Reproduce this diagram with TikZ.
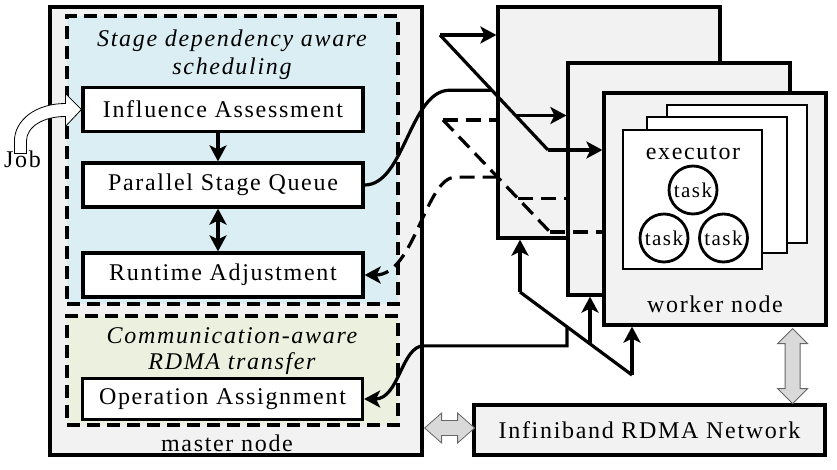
\documentclass[tikz,border=0pt]{standalone}
\usepackage{fontspec}
\setmainfont{Liberation Serif}[LetterSpace=7]
\usetikzlibrary{arrows.meta,calc}

\definecolor{schedblue}{RGB}{218,238,243}
\definecolor{rdmagreen}{RGB}{235,241,222}
\definecolor{hostgray}{RGB}{242,242,242}
\definecolor{linkgray}{RGB}{217,217,217}

\begin{document}
\begin{tikzpicture}[x=1pt,y=-1pt,line width=3.2pt,
        >={Stealth[length=16pt,width=17pt,inset=4pt]},
        every node/.style={inner sep=0pt, font=\fontsize{24}{28}\selectfont},
        title/.style={font=\fontsize{24}{28}\selectfont\itshape, align=center, anchor=north},
        hostbox/.style={draw, fill=hostgray},
        zone/.style={draw, dash pattern=on 13pt off 7pt},
        stagebox/.style={draw, fill=white, minimum width=280, minimum height=44},
        execbox/.style={draw, fill=white, line width=2.8pt, minimum width=140, minimum height=138},
        taskball/.style={draw, circle, fill=white, line width=2.8pt, minimum size=48, font=\fontsize{21}{24}\selectfont},
        feedback/.style={dash pattern=on 15pt off 8pt},
        pipe/.style={draw=black!60, fill=linkgray, line width=0.8pt},
        jobarrow/.style={draw, fill=white, line width=0.8pt}]
    \useasboundingbox (0,0) rectangle (837,469);

    % master node
    \node[hostbox, minimum width=372, minimum height=448] (master) at (236,231) {};
    \node[zone, fill=schedblue, minimum width=331, minimum height=288] (sched) at (232.5,160) {};
    \node[zone, fill=rdmagreen, minimum width=331, minimum height=109] (rdma) at (232.5,370.5) {};
    \node[title] (schedtitle) at (232,28) {Stage dependency aware\\scheduling};
    \node[title, font=\fontsize{24}{26}\selectfont\itshape] (rdmatitle) at (232,326) {Communication-aware\\RDMA transfer};
    \node[stagebox] (ia) at (223,109.5) {Influence Assessment};
    \node[stagebox] (psq) at (223,185) {Parallel Stage Queue};
    \node[stagebox] (ra) at (223,275) {Runtime Adjustment};
    \node[stagebox, minimum height=41] (oa) at (222.5,399) {Operation Assignment};
    \node[anchor=base] (mastername) at (227,451) {master node};

    % worker nodes
    \node[hostbox, minimum width=222, minimum height=231] (wb) at (609,122.5) {};
    \node[hostbox, minimum width=222, minimum height=232] (wm) at (679,179) {};
    \node[hostbox, minimum width=222, minimum height=232] (wf) at (715,209) {};
    \node[anchor=base] (workername) at (715,312) {worker node};
    \node[execbox] (eb) at (737,174) {};
    \node[execbox, minimum height=136] (em) at (717,185) {};
    \node[execbox, minimum width=139, minimum height=139] (ef) at (692.5,199.5) {};
    \node[anchor=base] (execname) at (693,159) {executor};
    \node[taskball] (t1) at (693,190) {task};
    \node[taskball] (t2) at (664,238) {task};
    \node[taskball] (t3) at (723.5,238) {task};

    \node[hostbox, minimum width=351, minimum height=50] (net) at (649.5,430) {Infiniband RDMA Network};

    % inside the scheduler
    \draw[->] ([xshift=-5pt]ia.south) -- ([xshift=-5pt]psq.north);
    \draw[<->] ([xshift=-5pt]psq.south) -- ([xshift=-5pt]ra.north);

    % stages out to the workers
    \coordinate (sb1) at (440,35);
    \coordinate (sb2) at (548,150);
    \coordinate (sb3) at ($(sb1)!0.7!(sb2)$);
    \coordinate (sbj) at ($(sb1)!0.48!(sb2)$);
    \draw (sb1) -- (sb2);
    \draw[->] (sb1) -- (sb1 -| wb.west);
    \draw[->] (sb3) -- (sb3 -| wm.west);
    \draw[->] (sb2) -- (sb2 -| wf.west);
    \draw (psq.east) .. controls +(40,0) and +(-40,0) .. ([xshift=-42pt]sbj) -- (sbj);

    % feedback back to the adjustment
    \coordinate (db1) at (443,120);
    \coordinate (db2) at (550,232);
    \coordinate (db3) at ($(db1)!0.7!(db2)$);
    \coordinate (dbj) at ($(db1)!0.51!(db2)$);
    \begin{scope}[feedback]
        \draw (db1) -- (db2);
        \draw (db1) -- (db1 -| wb.west);
        \draw (db3) -- (db3 -| wm.west);
        \draw (db2) -- (db2 -| wf.west);
        \draw[->] (dbj) -- ([xshift=-42pt]dbj) .. controls +(-30,0) and +(50,0) .. (ra.east);
    \end{scope}

    % rdma operations
    \coordinate (bb1) at (520,292);
    \coordinate (bb2) at (632,375);
    \coordinate (bb3) at ($(bb1)!0.625!(bb2)$);
    \coordinate (bbj) at ($(bb1)!0.42!(bb2)$);
    \coordinate (bbk) at ($(bbj)+(0,19)$);
    \draw (bb1) -- (bb2);
    \draw[->] (bb1) -- (bb1 |- wb.south);
    \draw[->] (bb3) -- (bb3 |- wm.south);
    \draw[->] (bb2) -- (bb2 |- wf.south);
    \draw[->] (bbj) -- (bbk) -- (bbk -| master.east) .. controls +(-22,0) and +(35,0) .. (oa.east);

    % network links
    \draw[pipe] ($(wf.south east)+(-35,2)$) -- ++(15,15) -- ++(-7.5,0) -- ++(0,45) -- ++(7.5,0)
        -- ++(-15,15) -- ++(-15,-15) -- ++(7.5,0) -- ++(0,-45) -- ++(-7.5,0) -- cycle;
    \draw[pipe] ($(master.east |- net.west)+(1,-2)$) -- ++(17,-15) -- ++(0,7.5) -- ++(16,0) -- ++(0,-7.5)
        -- ++(17,15) -- ++(-17,15) -- ++(0,-7.5) -- ++(-16,0) -- ++(0,7.5) -- cycle;

    % job comes in
    \node[anchor=base] (job) at (22.5,167) {Job};
    \draw[jobarrow] (ia.west) -- ++(-16,-16) -- ++(0,10) .. controls +(-29,0) and +(0,-22) .. ++(-51,38)
        -- ++(0,12) -- ++(12,0) -- ++(0,-12) .. controls +(0,-15) and +(-22,0) .. ++(39,-25) -- ++(0,10) -- cycle;
\end{tikzpicture}
\end{document}
